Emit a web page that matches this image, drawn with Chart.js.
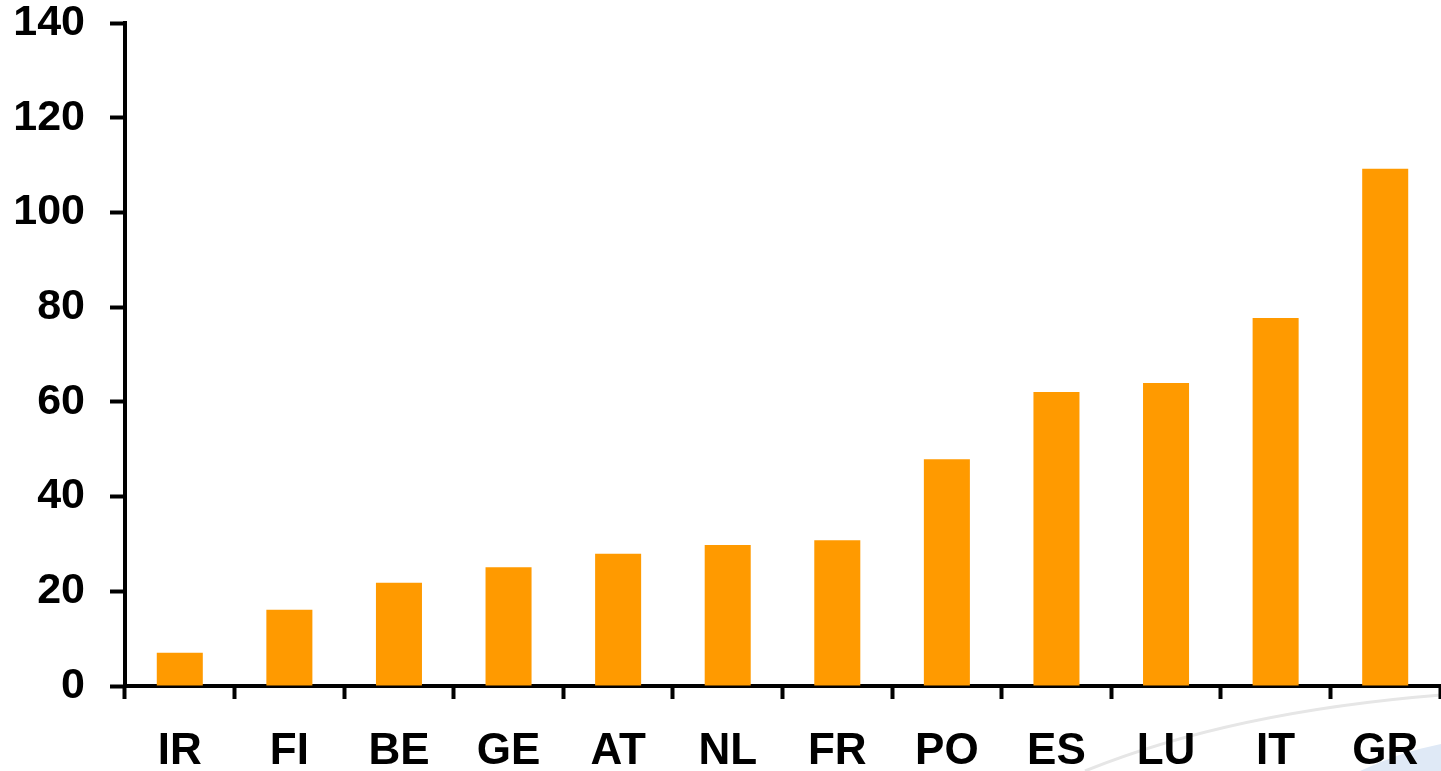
<!DOCTYPE html>
<html>
<head>
<meta charset="utf-8">
<script src="https://cdn.jsdelivr.net/npm/chart.js@4"></script>
<style>
html,body{margin:0;padding:0;background:#fff;}
#wrap{position:relative;width:1441px;height:771px;}
</style>
</head>
<body>
<div id="wrap"><canvas id="c" width="1441" height="771"></canvas></div>
<script>
const categories = ["IR","FI","BE","GE","AT","NL","FR","PO","ES","LU","IT","GR"];
const values = [7.0, 16.1, 21.8, 25.1, 27.9, 29.8, 30.8, 47.9, 62.1, 64.0, 77.7, 109.2];
const yTicks = [0, 20, 40, 60, 80, 100, 120, 140];

const swoosh = {
  id: 'swoosh',
  beforeDraw(chart) {
    const ctx = chart.ctx;
    ctx.save();
    ctx.fillStyle = '#dfe9f6';
    ctx.beginPath();
    ctx.moveTo(1360, 771);
    ctx.quadraticCurveTo(1400, 752, 1441, 744);
    ctx.lineTo(1441, 771);
    ctx.closePath();
    ctx.fill();
    ctx.strokeStyle = '#e6e6e6';
    ctx.lineWidth = 3;
    ctx.beginPath();
    ctx.moveTo(1085, 771);
    ctx.quadraticCurveTo(1230, 712, 1441, 695);
    ctx.stroke();
    ctx.restore();
  }
};

new Chart(document.getElementById('c'), {
  type: 'bar',
  data: {
    labels: categories,
    datasets: [{
      data: values,
      backgroundColor: '#FF9A00',
      borderWidth: 0,
      barPercentage: 0.42,
      categoryPercentage: 1.0
    }]
  },
  options: {
    responsive: false,
    animation: false,
    devicePixelRatio: 1,
    layout: { padding: { top: 0, right: 0, left: 0, bottom: 0 } },
    plugins: { legend: { display: false }, tooltip: { enabled: false } },
    scales: {
      x: {
        offset: true,
        grid: { offset: true, drawOnChartArea: false, drawTicks: true, tickLength: 13, tickWidth: 4, color: '#000' },
        border: { display: true, color: '#000', width: 4 },
        ticks: { color: '#000', font: { family: 'Liberation Sans, Arial, sans-serif', size: 44, weight: 'bold' }, padding: 26, maxRotation: 0, autoSkip: false },
        afterFit(s) { s.height = 85; s.paddingLeft = 0; s.paddingRight = 1; }
      },
      y: {
        min: 0, max: 140,
        afterBuildTicks(s) { s.ticks = yTicks.map(v => ({ value: v })); },
        grid: { drawOnChartArea: false, drawTicks: true, tickLength: 15, tickWidth: 4, color: '#000' },
        border: { display: true, color: '#000', width: 4 },
        ticks: { color: '#000', font: { family: 'Liberation Sans, Arial, sans-serif', size: 43, weight: 'bold', lineHeight: 1.0 }, padding: 25 },
        afterFit(s) { s.width = 125; s.paddingTop = 23; s.paddingBottom = 0; }
      }
    }
  },
  plugins: [swoosh]
});
</script>
</body>
</html>
